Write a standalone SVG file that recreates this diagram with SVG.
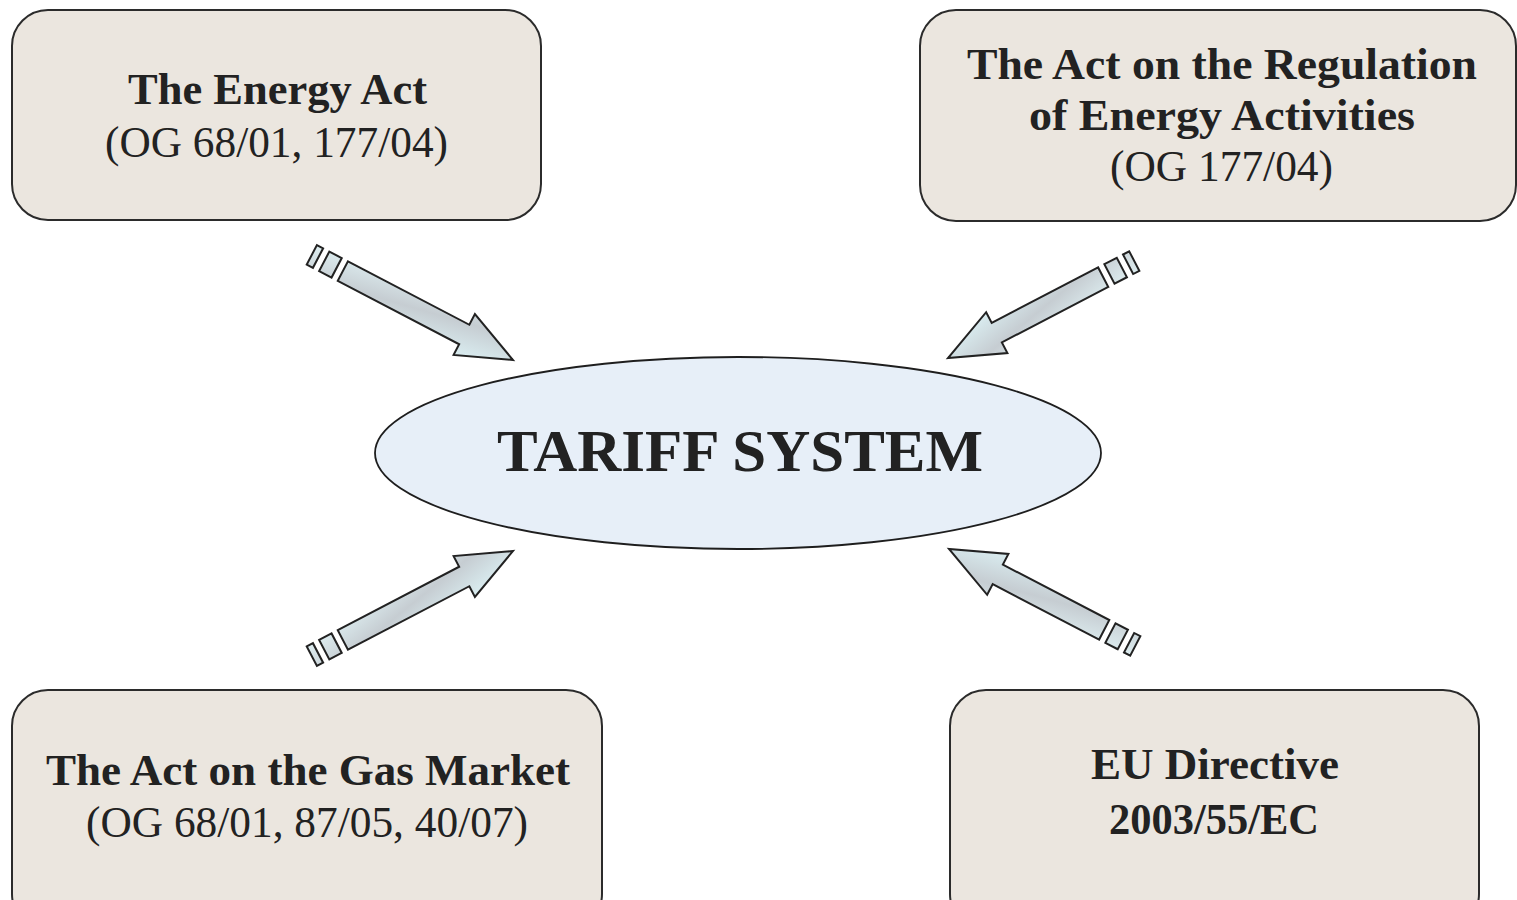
<svg xmlns="http://www.w3.org/2000/svg" width="1517" height="900" viewBox="0 0 1517 900">
  <defs>
    <linearGradient id="arrowGrad" x1="0" y1="0" x2="1" y2="1">
      <stop offset="0" stop-color="#e6f9fb"/>
      <stop offset="0.5" stop-color="#c6cdd2"/>
      <stop offset="1" stop-color="#e0f7fa"/>
    </linearGradient>
    <path id="arrowL" d="M-192,-11 H-55 V-23 L0,0 L-55,23 V11 H-192 Z M-213,-11 h14 v22 h-14 Z M-227,-11 h7 v22 h-7 Z"/>
    <path id="arrowR" d="M-175,-11 H-55 V-23 L0,0 L-55,23 V11 H-175 Z M-196,-11 h14 v22 h-14 Z M-210,-11 h7 v22 h-7 Z"/>
  </defs>
  <style>
    .box { fill: #ebe6df; stroke: #2b2b2b; stroke-width: 2; }
    .ell { fill: #e7eff8; stroke: #1e1e1e; stroke-width: 1.8; }
    .arrow { fill: url(#arrowGrad); stroke: #222; stroke-width: 2; stroke-linejoin: miter; }
    .t { font-family: "Liberation Serif", "Times New Roman", serif; font-size: 44px; fill: #222; text-anchor: middle; }
    .b { font-weight: bold; }
    .big { font-family: "Liberation Serif", "Times New Roman", serif; font-size: 60px; font-weight: bold; fill: #222; text-anchor: middle; }
  </style>
  <rect width="1517" height="900" fill="#ffffff"/>

  <g id="connectors">
    <use href="#arrowL" class="arrow" transform="translate(513,360) rotate(27.6)"/>
    <use href="#arrowR" class="arrow" transform="translate(948,358) rotate(152.5)"/>
    <use href="#arrowL" class="arrow" transform="translate(513,551) rotate(-27.6)"/>
    <use href="#arrowR" class="arrow" transform="translate(949,549) rotate(-152.5)"/>
  </g>

  <g id="node-energy-act">
    <rect class="box" x="12" y="10" width="529" height="210" rx="36" ry="36"/>
    <text class="t b" x="277.5" y="104" textLength="299" lengthAdjust="spacingAndGlyphs">The Energy Act</text>
    <text class="t" x="276.5" y="157" textLength="343" lengthAdjust="spacingAndGlyphs">(OG 68/01, 177/04)</text>
  </g>

  <g id="node-regulation-act">
    <rect class="box" x="920" y="10" width="596" height="211" rx="36" ry="36"/>
    <text class="t b" x="1222" y="79" textLength="510" lengthAdjust="spacingAndGlyphs">The Act on the Regulation</text>
    <text class="t b" x="1222" y="130" textLength="386" lengthAdjust="spacingAndGlyphs">of Energy Activities</text>
    <text class="t" x="1221.5" y="181" textLength="223" lengthAdjust="spacingAndGlyphs">(OG 177/04)</text>
  </g>

  <g id="node-gas-market-act">
    <rect class="box" x="12" y="690" width="590" height="240" rx="36" ry="36"/>
    <text class="t b" x="308" y="785" textLength="524" lengthAdjust="spacingAndGlyphs">The Act on the Gas Market</text>
    <text class="t" x="307" y="837" textLength="442" lengthAdjust="spacingAndGlyphs">(OG 68/01, 87/05, 40/07)</text>
  </g>

  <g id="node-eu-directive">
    <rect class="box" x="950" y="690" width="529" height="240" rx="36" ry="36"/>
    <text class="t b" x="1215" y="779" textLength="248" lengthAdjust="spacingAndGlyphs">EU Directive</text>
    <text class="t b" x="1214" y="834" textLength="210" lengthAdjust="spacingAndGlyphs">2003/55/EC</text>
  </g>

  <g id="node-tariff-system">
    <ellipse class="ell" cx="738" cy="453" rx="363" ry="96"/>
    <text class="big" x="740" y="471" textLength="486" lengthAdjust="spacingAndGlyphs">TARIFF SYSTEM</text>
  </g>
</svg>
